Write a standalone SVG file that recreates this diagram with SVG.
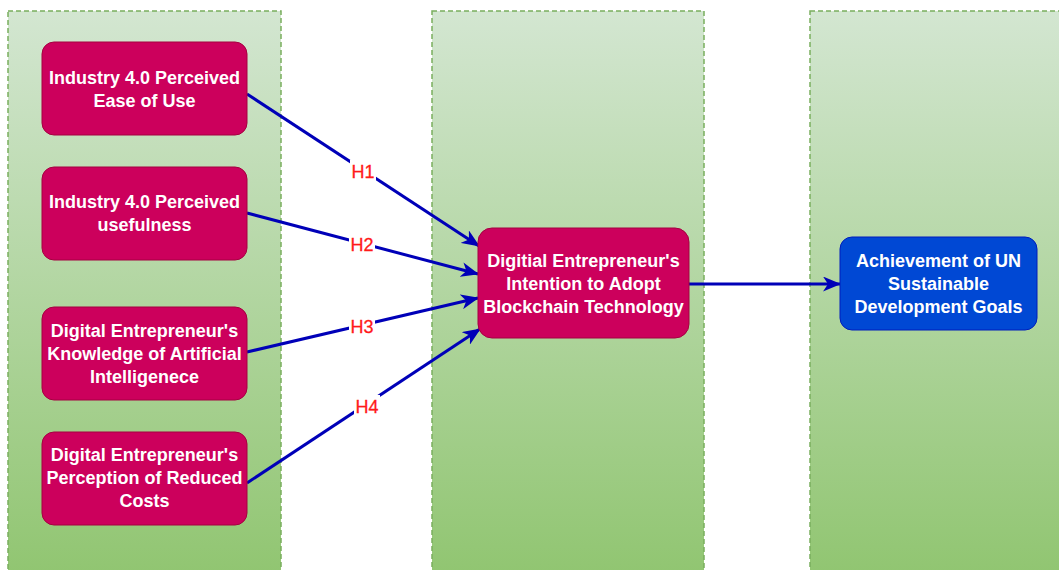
<svg xmlns="http://www.w3.org/2000/svg" width="1059" height="570" viewBox="0 0 1059 570">
  <style>
    .lane { stroke: #7aae5e; stroke-width: 1.5; stroke-dasharray: 5 3; fill: url(#laneFill); }
    .mag { fill: #cc005c; stroke: #a50040; stroke-width: 1; }
    .cob { fill: #0048d4; stroke: #001dbc; stroke-width: 1; }
    .lbl { font-family: "Liberation Sans", Arial, sans-serif; font-weight: bold; font-size: 18px; fill: #ffffff; text-anchor: middle; }
    .edge { stroke: #0000b8; stroke-width: 3; fill: none; marker-end: url(#arrow); }
    .hyp { font-family: "Liberation Sans", Arial, sans-serif; font-size: 18px; fill: #ff1a1a; text-anchor: middle; stroke: #ff1a1a; stroke-width: 0.3; }
  </style>
  <defs>
    <linearGradient id="laneFill" x1="0" y1="0" x2="0" y2="1">
      <stop offset="0" stop-color="#d3e6d1"/>
      <stop offset="1" stop-color="#90c570"/>
    </linearGradient>
    <marker id="arrow" viewBox="0 0 18 15" refX="17" refY="7.5" markerWidth="18" markerHeight="15" markerUnits="userSpaceOnUse" orient="auto">
      <path d="M0,0 L18,7.5 L0,15 L5,7.5 Z" fill="#0000b8"/>
    </marker>
  </defs>

  <rect width="1059" height="570" fill="#ffffff"/>

  <!-- swimlane columns -->
  <g id="lanes">
    <rect class="lane" x="8" y="11" width="273" height="570"/>
    <rect class="lane" x="432" y="11" width="272" height="570"/>
    <rect class="lane" x="810" y="11" width="260" height="570"/>
  </g>

  <!-- connectors -->
  <g id="connectors">
    <line class="edge" x1="247" y1="94" x2="479" y2="246"/>
    <line class="edge" x1="247" y1="213" x2="478" y2="274"/>
    <line class="edge" x1="247" y1="352" x2="478" y2="298"/>
    <line class="edge" x1="247" y1="483" x2="480" y2="329"/>
    <line class="edge" x1="689" y1="284" x2="840" y2="284"/>
    <g id="hypothesis-labels">
      <rect x="350" y="160" width="26" height="22" fill="#ffffff"/>
      <text class="hyp" x="363" y="178">H1</text>
      <rect x="349" y="233" width="26" height="22" fill="#ffffff"/>
      <text class="hyp" x="362" y="251">H2</text>
      <rect x="349" y="315" width="26" height="22" fill="#ffffff"/>
      <text class="hyp" x="362" y="333">H3</text>
      <rect x="354" y="395" width="26" height="22" fill="#ffffff"/>
      <text class="hyp" x="367" y="413">H4</text>
    </g>
  </g>

  <!-- predictor nodes -->
  <g id="ease-of-use">
    <rect class="mag" x="42" y="42" width="205" height="93" rx="12"/>
    <text class="lbl" x="144.5" y="83.5">Industry 4.0 Perceived</text>
    <text class="lbl" x="144.5" y="106.5">Ease of Use</text>
  </g>
  <g id="usefulness">
    <rect class="mag" x="42" y="167" width="205" height="93" rx="12"/>
    <text class="lbl" x="144.5" y="208">Industry 4.0 Perceived</text>
    <text class="lbl" x="144.5" y="231">usefulness</text>
  </g>
  <g id="ai-knowledge">
    <rect class="mag" x="42" y="307" width="205" height="93" rx="12"/>
    <text class="lbl" x="144.5" y="336.5">Digital Entrepreneur's</text>
    <text class="lbl" x="144.5" y="359.5">Knowledge of Artificial</text>
    <text class="lbl" x="144.5" y="382.5">Intelligenece</text>
  </g>
  <g id="reduced-costs">
    <rect class="mag" x="42" y="432" width="205" height="93" rx="12"/>
    <text class="lbl" x="144.5" y="461">Digital Entrepreneur's</text>
    <text class="lbl" x="144.5" y="484">Perception of Reduced</text>
    <text class="lbl" x="144.5" y="507">Costs</text>
  </g>

  <!-- mediator -->
  <g id="adoption-intention">
    <rect class="mag" x="478" y="228" width="211" height="110" rx="14"/>
    <text class="lbl" x="583.5" y="266.5">Digitial Entrepreneur's</text>
    <text class="lbl" x="583.5" y="289.5">Intention to Adopt</text>
    <text class="lbl" x="583.5" y="312.5">Blockchain Technology</text>
  </g>

  <!-- outcome -->
  <g id="sdg-achievement">
    <rect class="cob" x="840" y="237" width="197" height="93" rx="12"/>
    <text class="lbl" x="938.5" y="267">Achievement of UN</text>
    <text class="lbl" x="938.5" y="290">Sustainable</text>
    <text class="lbl" x="938.5" y="313">Development Goals</text>
  </g>
</svg>
